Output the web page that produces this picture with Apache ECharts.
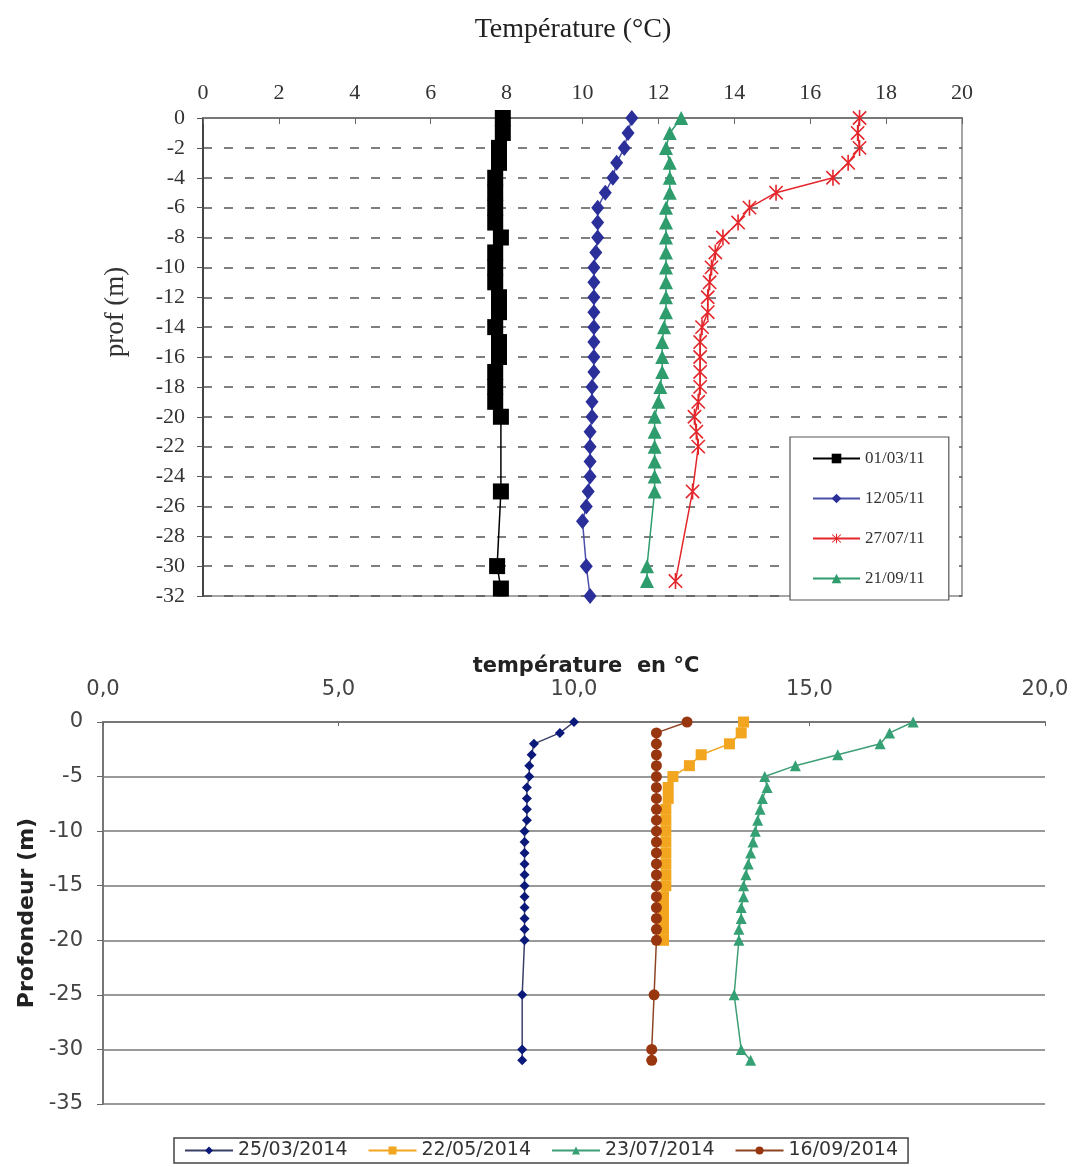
<!DOCTYPE html>
<html>
<head>
<meta charset="utf-8">
<script src="https://cdn.jsdelivr.net/npm/echarts@6/dist/echarts.min.js"></script>
<style>html,body{margin:0;padding:0;background:#fff}#c{width:1075px;height:1167px}</style>
</head>
<body>
<div id="c"></div>
<script>
// ---------- Top chart (2011) ----------
const topXTicks = ['0','2','4','6','8','10','12','14','16','18','20'];
const topNames = ['01/03/11','12/05/11','27/07/11','21/09/11'];

const depth_010311 = [0,-1,-2,-3,-4,-5,-6,-7,-8,-9,-10,-11,-12,-13,-14,-15,-16,-17,-18,-19,-20,-25,-30,-31.5];
const temp_010311  = [7.9,7.9,7.8,7.8,7.7,7.7,7.7,7.7,7.85,7.7,7.7,7.7,7.8,7.8,7.7,7.8,7.8,7.7,7.7,7.7,7.85,7.85,7.75,7.85];

const depth_120511 = [0,-1,-2,-3,-4,-5,-6,-7,-8,-9,-10,-11,-12,-13,-14,-15,-16,-17,-18,-19,-20,-21,-22,-23,-24,-25,-26,-27,-30,-32];
const temp_120511  = [11.3,11.2,11.1,10.9,10.8,10.6,10.4,10.4,10.4,10.35,10.3,10.3,10.3,10.3,10.3,10.3,10.3,10.3,10.25,10.25,10.25,10.2,10.2,10.2,10.2,10.15,10.1,10.0,10.1,10.2];

const depth_270711 = [0,-1,-2,-3,-4,-5,-6,-7,-8,-9,-10,-11,-12,-13,-14,-15,-16,-17,-18,-19,-20,-21,-22,-25,-31];
const temp_270711  = [17.3,17.25,17.3,17.0,16.6,15.1,14.4,14.1,13.7,13.5,13.4,13.35,13.3,13.3,13.15,13.1,13.1,13.1,13.1,13.05,12.95,13.0,13.05,12.9,12.45];

const depth_210911 = [0,-1,-2,-3,-4,-5,-6,-7,-8,-9,-10,-11,-12,-13,-14,-15,-16,-17,-18,-19,-20,-21,-22,-23,-24,-25,-30,-31];
const temp_210911  = [12.6,12.3,12.2,12.3,12.3,12.3,12.2,12.2,12.2,12.2,12.2,12.2,12.2,12.2,12.15,12.1,12.1,12.1,12.05,12.0,11.9,11.9,11.9,11.9,11.9,11.9,11.7,11.7];

// ---------- Bottom chart (2014) ----------
const botNames = ['25/03/2014','22/05/2014','23/07/2014','16/09/2014'];

const depth_250314 = [0,-1,-2,-3,-4,-5,-6,-7,-8,-9,-10,-11,-12,-13,-14,-15,-16,-17,-18,-19,-20,-25,-30,-31];
const temp_250314  = [10.0,9.7,9.15,9.1,9.05,9.05,9.0,9.0,9.0,9.0,8.95,8.95,8.95,8.95,8.95,8.95,8.95,8.95,8.95,8.95,8.95,8.9,8.9,8.9];

const depth_220514 = [0,-1,-2,-3,-4,-5,-6,-7,-8,-9,-10,-11,-12,-13,-14,-15,-16,-17,-18,-19,-20];
const temp_220514  = [13.6,13.55,13.3,12.7,12.45,12.1,12.0,12.0,11.95,11.95,11.95,11.95,11.95,11.95,11.95,11.95,11.9,11.9,11.9,11.9,11.9];

const depth_230714 = [0,-1,-2,-3,-4,-5,-6,-7,-8,-9,-10,-11,-12,-13,-14,-15,-16,-17,-18,-19,-20,-25,-30,-31];
const temp_230714  = [17.2,16.7,16.5,15.6,14.7,14.05,14.1,14.0,13.95,13.9,13.85,13.8,13.75,13.7,13.65,13.6,13.6,13.55,13.55,13.5,13.5,13.4,13.55,13.75];

const depth_160914 = [0,-1,-2,-3,-4,-5,-6,-7,-8,-9,-10,-11,-12,-13,-14,-15,-16,-17,-18,-19,-20,-25,-30,-31];
const temp_160914  = [12.4,11.75,11.75,11.75,11.75,11.75,11.75,11.75,11.75,11.75,11.75,11.75,11.75,11.75,11.75,11.75,11.75,11.75,11.75,11.75,11.75,11.7,11.65,11.65];

function pairs(t, d) { return t.map((v, i) => [v, d[i]]); }

const SERIF = 'Liberation Serif';
const SANS = 'DejaVu Sans';
const asterisk = 'path://M-9,-7.6L-7.6,-9L9,7.6L7.6,9Z M7.6,-9L9,-7.6L-7.6,9L-9,7.6Z M-1,-10L1,-10L1,10L-1,10Z';

const chart = echarts.init(document.getElementById('c'), null, {renderer: 'canvas'});
chart.setOption({
  animation: false,
  backgroundColor: '#fff',
  graphic: [
    {type: 'text', x: 116, y: 312, rotation: Math.PI / 2,
     style: {text: 'prof (m)', font: '27px "Liberation Serif"', fill: '#333', textAlign: 'center', textVerticalAlign: 'middle'}},
    {type: 'text', x: 573, y: 30,
     style: {text: 'Température (°C)', font: '28px "Liberation Serif"', fill: '#222', textAlign: 'center', textVerticalAlign: 'middle'}},
    {type: 'text', x: 586, y: 667,
     style: {text: 'température  en °C', font: 'bold 21px "DejaVu Sans"', fill: '#222', textAlign: 'center', textVerticalAlign: 'middle'}}
  ],
  grid: [
    {left: 203, top: 118, width: 759, height: 478, show: true, borderColor: '#888', borderWidth: 1.5, backgroundColor: '#fff'},
    {left: 103, top: 722, width: 942, height: 382, show: false}
  ],
  xAxis: [
    {
      gridIndex: 0, type: 'value', position: 'top', min: 0, max: 20, interval: 2,
      axisLine: {show: true, onZero: false, lineStyle: {color: '#777', width: 2}},
      axisTick: {show: true, inside: true, length: 6, lineStyle: {color: '#666'}},
      axisLabel: {margin: 14, fontFamily: SERIF, fontSize: 22, color: '#333',
        formatter: v => topXTicks[Math.round(v / 2)]},
      splitLine: {show: false}
    },
    {
      gridIndex: 1, type: 'value', position: 'top', min: 0, max: 20, interval: 5,
      axisLine: {show: true, onZero: false, lineStyle: {color: '#777', width: 2}},
      axisTick: {show: true, inside: true, length: 4, lineStyle: {color: '#666'}},
      axisLabel: {margin: 22, fontFamily: SANS, fontSize: 21, color: '#444',
        formatter: v => v.toFixed(1).replace('.', ',')},
      splitLine: {show: false}
    }
  ],
  yAxis: [
    {
      gridIndex: 0, type: 'value', min: -32, max: 0, interval: 2,
      axisLine: {show: true, onZero: false, lineStyle: {color: '#444', width: 2}},
      axisTick: {show: true, length: 6, lineStyle: {color: '#555'}},
      axisLabel: {margin: 18, fontFamily: SERIF, fontSize: 22, color: '#333'},
      splitLine: {show: true, lineStyle: {color: '#555', width: 1.5, type: [9, 12]}}
    },
    {
      gridIndex: 1, type: 'value', min: -35, max: 0, interval: 5,
      name: 'Profondeur (m)', nameLocation: 'middle', nameGap: 64, nameRotate: 90,
      nameTextStyle: {fontFamily: SANS, fontSize: 22, fontWeight: 'bold', color: '#222'},
      axisLine: {show: true, onZero: false, lineStyle: {color: '#777', width: 2}},
      axisTick: {show: true, length: 6, lineStyle: {color: '#666'}},
      axisLabel: {margin: 20, fontFamily: SANS, fontSize: 21, color: '#444'},
      splitLine: {show: true, lineStyle: {color: '#999', width: 2}}
    }
  ],
  legend: [
    {
      data: topNames, orient: 'vertical', left: 790, top: 437,
      padding: [13, 24, 13, 22], itemGap: 23, itemWidth: 47, itemHeight: 12,
      borderColor: '#555', borderWidth: 1.2, backgroundColor: '#fff',
      textStyle: {fontFamily: SERIF, fontSize: 17, color: '#333'}
    },
    {
      data: botNames, orient: 'horizontal', left: 174, top: 1138,
      padding: [3, 10, 3, 10], itemGap: 20, itemWidth: 48, itemHeight: 10,
      borderColor: '#444', borderWidth: 1.5, backgroundColor: '#fff',
      textStyle: {fontFamily: SANS, fontSize: 19, color: '#333'}
    }
  ],
  series: [
    {name: topNames[0], type: 'line', xAxisIndex: 0, yAxisIndex: 0, data: pairs(temp_010311, depth_010311),
     symbol: 'rect', symbolSize: 16, itemStyle: {color: '#000'}, lineStyle: {color: '#000', width: 1.5}},
    {name: topNames[1], type: 'line', xAxisIndex: 0, yAxisIndex: 0, data: pairs(temp_120511, depth_120511),
     symbol: 'diamond', symbolSize: [13, 16], itemStyle: {color: '#2B2F9A'}, lineStyle: {color: '#4A4FA8', width: 1.5}},
    {name: topNames[2], type: 'line', xAxisIndex: 0, yAxisIndex: 0, data: pairs(temp_270711, depth_270711),
     symbol: asterisk, symbolSize: 16, symbolKeepAspect: true, itemStyle: {color: '#E3262B'}, lineStyle: {color: '#E3262B', width: 1.5}},
    {name: topNames[3], type: 'line', xAxisIndex: 0, yAxisIndex: 0, data: pairs(temp_210911, depth_210911),
     symbol: 'triangle', symbolSize: 14, itemStyle: {color: '#2E9C6C'}, lineStyle: {color: '#2E9C6C', width: 1.5}},

    {name: botNames[0], type: 'line', xAxisIndex: 1, yAxisIndex: 1, data: pairs(temp_250314, depth_250314),
     symbol: 'diamond', symbolSize: 10, itemStyle: {color: '#0B1A7A'}, lineStyle: {color: '#3A3F66', width: 1.5}},
    {name: botNames[1], type: 'line', xAxisIndex: 1, yAxisIndex: 1, data: pairs(temp_220514, depth_220514),
     symbol: 'rect', symbolSize: 11, itemStyle: {color: '#F2A51E'}, lineStyle: {color: '#F2A51E', width: 1.5}},
    {name: botNames[2], type: 'line', xAxisIndex: 1, yAxisIndex: 1, data: pairs(temp_230714, depth_230714),
     symbol: 'triangle', symbolSize: 11, itemStyle: {color: '#35A074'}, lineStyle: {color: '#3E9E76', width: 1.5}},
    {name: botNames[3], type: 'line', xAxisIndex: 1, yAxisIndex: 1, data: pairs(temp_160914, depth_160914),
     symbol: 'circle', symbolSize: 11, itemStyle: {color: '#98360F'}, lineStyle: {color: '#8E4524', width: 1.5}}
  ]
});
</script>
</body>
</html>
